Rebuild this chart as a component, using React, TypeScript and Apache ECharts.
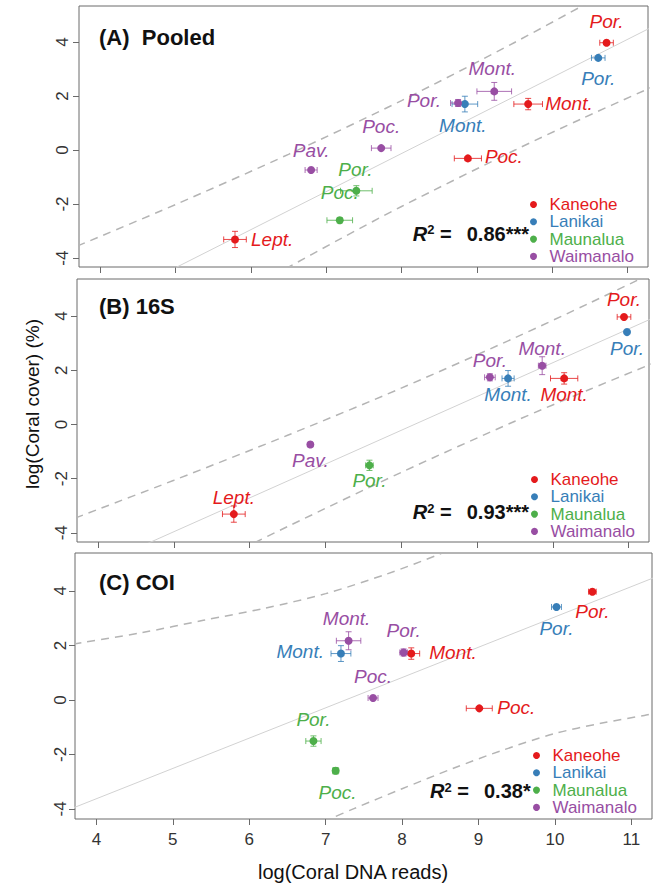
import React, { useEffect, useRef } from "react";
import * as echarts from "echarts";

const FONT = '"Liberation Sans", Arial, Helvetica, sans-serif';

const SITES = ["Kaneohe", "Lanikai", "Maunalua", "Waimanalo"];
const SITE_COLORS = ["#E41A1C", "#377EB8", "#4DAF4A", "#984EA3"];

const X_TICKS = [4, 5, 6, 7, 8, 9, 10, 11];
const Y_TICKS = [-4, -2, 0, 2, 4];
const X_RANGE = [3.72, 11.27];

// ---------- (A) Pooled ----------
const pooledGenus = ["Por.", "Por.", "Mont.", "Mont.", "Por.", "Mont.", "Poc.", "Poc.", "Por.", "Poc.", "Pav.", "Lept."];
const pooledSite = ["Kaneohe", "Lanikai", "Waimanalo", "Kaneohe", "Waimanalo", "Lanikai", "Waimanalo", "Kaneohe", "Maunalua", "Maunalua", "Waimanalo", "Kaneohe"];
const pooledX = [10.72, 10.61, 9.23, 9.68, 8.75, 8.84, 7.73, 8.88, 7.4, 7.18, 6.8, 5.79];
const pooledY = [3.97, 3.41, 2.17, 1.7, 1.74, 1.7, 0.07, -0.31, -1.51, -2.6, -0.74, -3.31];
const pooledXErr = [0.09, 0.09, 0.23, 0.19, 0.1, 0.17, 0.13, 0.18, 0.21, 0.17, 0.08, 0.15];
const pooledYErr = [0.05, 0.04, 0.33, 0.21, 0.13, 0.29, 0.05, 0.05, 0.19, 0.1, 0.04, 0.3];
const pooledFit = [[3.7, -6.19], [11.3, 4.52]];
const pooledUpper = [[3.7, -3.55], [5.0, -2.02], [6.5, -0.16], [8.0, 1.83], [9.5, 3.98], [10.5, 5.49]];
const pooledLower = [[6.3, -4.64], [7.2, -3.27], [8.0, -2.09], [9.5, -0.01], [10.4, 1.17], [11.3, 2.3]];
const pooledR2 = "0.86***";

// ---------- (B) 16S ----------
const seqGenus = ["Por.", "Por.", "Mont.", "Mont.", "Por.", "Mont.", "Por.", "Pav.", "Lept."];
const seqSite = ["Kaneohe", "Lanikai", "Waimanalo", "Kaneohe", "Waimanalo", "Lanikai", "Maunalua", "Waimanalo", "Kaneohe"];
const seqX = [10.94, 10.98, 9.86, 10.15, 9.17, 9.41, 7.58, 6.8, 5.79];
const seqY = [3.97, 3.41, 2.17, 1.7, 1.74, 1.7, -1.51, -0.74, -3.31];
const seqXErr = [0.09, 0.02, 0.05, 0.18, 0.07, 0.08, 0.05, 0.03, 0.15];
const seqYErr = [0.05, 0.04, 0.33, 0.21, 0.13, 0.29, 0.19, 0.04, 0.3];
const seqFit = [[3.7, -5.58], [11.3, 3.9]];
const seqUpper = [[3.7, -3.45], [5.0, -2.06], [6.5, -0.4], [8.0, 1.34], [9.5, 3.2], [10.5, 4.5], [11.3, 5.57]];
const seqLower = [[5.9, -4.59], [6.5, -3.77], [8.0, -1.77], [9.5, 0.12], [10.5, 1.31], [11.3, 2.23]];
const seqR2 = "0.93***";

// ---------- (C) COI ----------
const coiGenus = ["Por.", "Por.", "Mont.", "Mont.", "Por.", "Mont.", "Poc.", "Poc.", "Por.", "Poc."];
const coiSite = ["Kaneohe", "Lanikai", "Waimanalo", "Lanikai", "Waimanalo", "Kaneohe", "Waimanalo", "Kaneohe", "Maunalua", "Maunalua"];
const coiX = [10.49, 10.02, 7.3, 7.2, 8.02, 8.12, 7.62, 9.01, 6.84, 7.13];
const coiY = [3.97, 3.41, 2.17, 1.7, 1.74, 1.7, 0.07, -0.31, -1.51, -2.6];
const coiXErr = [0.05, 0.065, 0.16, 0.13, 0.05, 0.11, 0.065, 0.17, 0.1, 0.04];
const coiYErr = [0.03, 0.03, 0.33, 0.29, 0.13, 0.21, 0.04, 0.04, 0.19, 0.12];
const coiFit = [[3.7, -3.96], [11.3, 4.49]];
const coiUpper = [[3.7, 2.05], [4.6, 2.47], [5.4, 2.92], [6.2, 3.36], [7.0, 3.9], [7.8, 4.62], [8.5, 5.36], [9.2, 6.2]];
const coiLower = [[6.8, -4.68], [7.06, -4.36], [7.37, -3.99], [8.0, -3.26], [8.68, -2.5], [9.3, -1.86], [9.99, -1.24], [10.6, -0.86], [11.17, -0.57], [11.3, -0.49]];
const coiR2 = "0.38*";

// ---------- layout (pixel offsets of genus labels from their point) ----------
const pooledLabelPlace = [[0, -21, "c"], [0, 21, "c"], [-2, -23, "c"], [17, -1, "l"], [-17, -2, "r"], [-2, 21, "c"], [0, -22, "c"], [17, -2, "l"], [-1, -21, "c"], [0, -28, "c"], [0, -20, "c"], [16, 0, "l"]];
const seqLabelPlace = [[0, -17, "c"], [0, 16, "c"], [0, -17, "c"], [0, 16, "c"], [0, -17, "c"], [0, 16, "c"], [0, 15, "c"], [0, 16, "c"], [0, -17, "c"]];
const coiLabelPlace = [[0, 20, "c"], [0, 22, "c"], [-2, -22, "c"], [-17, -2, "r"], [0, -22, "c"], [18, -1, "l"], [0, -21, "c"], [18, -1, "l"], [0, -22, "c"], [2, 22, "c"]];

const GRID_BOX = [
  { left: 79, top: 6, width: 569, height: 261 },
  { left: 77, top: 279, width: 572, height: 263 },
  { left: 75, top: 553, width: 577, height: 266 },
];
const Y_RANGES = [[-4.33, 5.33], [-4.34, 5.37], [-4.37, 5.39]];
const Y_LABEL_MARGIN = [8, 7, 6];
const TITLE_POS = [[99, 37], [99, 306], [99, 582]];
const R2_POS = [[412.7, 240.7], [412.7, 519.3], [430, 798.3]];
const LEGEND_POS = [{ left: 530, top: 196 }, { left: 531, top: 471 }, { left: 533, top: 747 }];

const PANELS = [
  { title: "(A)  Pooled", genus: pooledGenus, site: pooledSite, x: pooledX, y: pooledY, xe: pooledXErr, ye: pooledYErr, fit: pooledFit, upper: pooledUpper, lower: pooledLower, r2: pooledR2, place: pooledLabelPlace },
  { title: "(B) 16S", genus: seqGenus, site: seqSite, x: seqX, y: seqY, xe: seqXErr, ye: seqYErr, fit: seqFit, upper: seqUpper, lower: seqLower, r2: seqR2, place: seqLabelPlace },
  { title: "(C) COI", genus: coiGenus, site: coiSite, x: coiX, y: coiY, xe: coiXErr, ye: coiYErr, fit: coiFit, upper: coiUpper, lower: coiLower, r2: coiR2, place: coiLabelPlace },
];

const ALIGN: Record<string, string> = { c: "center", l: "left", r: "right" };

function makeErrRender(color: string) {
  return (params: any, api: any) => {
    const x = api.value(0), y = api.value(1), xe = api.value(2), ye = api.value(3);
    const c = api.coord([x, y]);
    const l = api.coord([x - xe, y]);
    const r = api.coord([x + xe, y]);
    const t = api.coord([x, y + ye]);
    const b = api.coord([x, y - ye]);
    const cap = 3;
    const style = { stroke: color, lineWidth: 1, fill: "none", opacity: 0.8 };
    const children: any[] = [
      { type: "line", shape: { x1: l[0], y1: c[1], x2: r[0], y2: c[1] }, style },
      { type: "line", shape: { x1: l[0], y1: c[1] - cap, x2: l[0], y2: c[1] + cap }, style },
      { type: "line", shape: { x1: r[0], y1: c[1] - cap, x2: r[0], y2: c[1] + cap }, style },
      { type: "line", shape: { x1: c[0], y1: t[1], x2: c[0], y2: b[1] }, style },
      { type: "line", shape: { x1: c[0] - cap, y1: t[1], x2: c[0] + cap, y2: t[1] }, style },
      { type: "line", shape: { x1: c[0] - cap, y1: b[1], x2: c[0] + cap, y2: b[1] }, style },
    ];
    return { type: "group", children };
  };
}

function buildOption() {
  const grid: any[] = [], xAxis: any[] = [], yAxis: any[] = [], series: any[] = [], legend: any[] = [], graphic: any[] = [];

  PANELS.forEach((p, i) => {
    const g = GRID_BOX[i];
    grid.push({ ...g, show: true, borderColor: "#6a6a6a", borderWidth: 1, backgroundColor: "transparent" });
    xAxis.push({
      type: "value", gridIndex: i, min: X_RANGE[0], max: X_RANGE[1], position: "bottom",
      axisLine: { show: false, onZero: false }, splitLine: { show: false },
      axisTick: { show: true, inside: false, length: 6, customValues: X_TICKS, lineStyle: { color: "#6a6a6a" } },
      axisLabel: { show: i === 2, customValues: X_TICKS, fontSize: 17, color: "#333", margin: 12, fontFamily: FONT },
    });
    yAxis.push({
      type: "value", gridIndex: i, min: Y_RANGES[i][0], max: Y_RANGES[i][1], position: "left",
      axisLine: { show: false, onZero: false }, splitLine: { show: false },
      axisTick: { show: true, inside: false, length: 6, customValues: Y_TICKS, lineStyle: { color: "#6a6a6a" } },
      axisLabel: { show: true, customValues: Y_TICKS, rotate: 90, fontSize: 17, color: "#333", margin: Y_LABEL_MARGIN[i], fontFamily: FONT },
    });

    series.push({ type: "line", xAxisIndex: i, yAxisIndex: i, data: p.fit, symbol: "none", silent: true, z: 1, clip: true, lineStyle: { color: "#d2d2d2", width: 1 } });
    series.push({ type: "line", xAxisIndex: i, yAxisIndex: i, data: p.upper, smooth: 0.3, symbol: "none", silent: true, z: 1, clip: true, lineStyle: { color: "#b4b4b4", width: 1.5, type: [8, 6] } });
    series.push({ type: "line", xAxisIndex: i, yAxisIndex: i, data: p.lower, smooth: 0.3, symbol: "none", silent: true, z: 1, clip: true, lineStyle: { color: "#b4b4b4", width: 1.5, type: [8, 6] } });

    SITES.forEach((site, s) => {
      const idx = p.site.map((v, k) => (v === site ? k : -1)).filter((k) => k >= 0);
      if (!idx.length) return;
      const color = SITE_COLORS[s];
      series.push({
        type: "custom", name: site, xAxisIndex: i, yAxisIndex: i, z: 3, clip: true, silent: true,
        encode: { x: 0, y: 1 },
        data: idx.map((k) => [p.x[k], p.y[k], p.xe[k], p.ye[k]]),
        renderItem: makeErrRender(color),
      });
      series.push({
        type: "scatter", name: site, xAxisIndex: i, yAxisIndex: i, z: 4, symbol: "circle", symbolSize: 8, silent: true,
        itemStyle: { color, opacity: 1 },
        data: idx.map((k) => ({
          value: [p.x[k], p.y[k]],
          label: {
            show: true, formatter: p.genus[k], position: "inside",
            offset: [p.place[k][0], p.place[k][1]], align: ALIGN[p.place[k][2] as string], verticalAlign: "middle",
            color, fontStyle: "italic", fontSize: 19, fontFamily: FONT,
          },
        })),
      });
    });

    legend.push({
      orient: "vertical", left: LEGEND_POS[i].left, top: LEGEND_POS[i].top, padding: 0, itemGap: 0.3,
      itemWidth: 22, itemHeight: 7, icon: "circle", selectedMode: false, symbolKeepAspect: true,
      textStyle: { fontSize: 17, lineHeight: 15, fontFamily: FONT },
      data: SITES.map((s, k) => ({ name: s, icon: "circle", itemStyle: { color: SITE_COLORS[k] }, textStyle: { color: SITE_COLORS[k], fontSize: 17, lineHeight: 15, fontFamily: FONT } })),
    });

    // panel title
    graphic.push({ type: "text", x: TITLE_POS[i][0], y: TITLE_POS[i][1], silent: true, style: { text: p.title, font: `bold 22px ${FONT}`, fill: "#111", align: "left", verticalAlign: "middle" } });

    // R^2 annotation
    const [rx, rb] = R2_POS[i];
    graphic.push({ type: "text", x: rx, y: rb - 7.2, silent: true, style: { text: "R", font: `italic bold 20px ${FONT}`, fill: "#111", align: "left", verticalAlign: "middle" } });
    graphic.push({ type: "text", x: rx + 14.6, y: rb - 11, silent: true, style: { text: "2", font: `bold 13px ${FONT}`, fill: "#111", align: "left", verticalAlign: "middle" } });
    graphic.push({ type: "text", x: rx + 27.3, y: rb - 7.2, silent: true, style: { text: "=", font: `bold 20px ${FONT}`, fill: "#111", align: "left", verticalAlign: "middle" } });
    graphic.push({ type: "text", x: rx + 54, y: rb - 7.2, silent: true, style: { text: p.r2, font: `bold 20px ${FONT}`, fill: "#111", align: "left", verticalAlign: "middle" } });
  });

  graphic.push({ type: "text", x: 32, y: 404, rotation: Math.PI / 2, silent: true, style: { text: "log(Coral cover) (%)", font: `19px ${FONT}`, fill: "#111", align: "center", verticalAlign: "middle" } });
  graphic.push({ type: "text", x: 353, y: 872, silent: true, style: { text: "log(Coral DNA reads)", font: `20px ${FONT}`, fill: "#111", align: "center", verticalAlign: "middle" } });

  return {
    animation: false,
    backgroundColor: "#ffffff",
    textStyle: { fontFamily: FONT },
    grid, xAxis, yAxis, series, legend, graphic,
  };
}

export default function App() {
  const ref = useRef<HTMLDivElement>(null);
  useEffect(() => {
    if (!ref.current) return;
    const chart = echarts.init(ref.current, null, { renderer: "svg" });
    chart.setOption(buildOption() as any);
    return () => chart.dispose();
  }, []);
  return <div ref={ref} style={{ position: "fixed", left: 0, top: 0, width: 656, height: 885, background: "#fff" }} />;
}
